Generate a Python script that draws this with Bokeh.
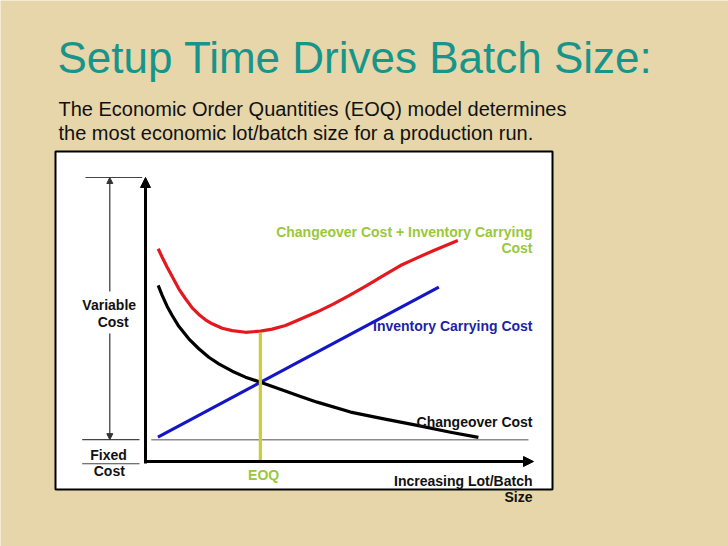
from bokeh.plotting import figure
from bokeh.models import Range1d, Arrow, NormalHead
from bokeh.core.properties import value
from bokeh.embed import file_html
from bokeh.resources import INLINE

# ---------------- data (axis units 0..100) ----------------
total_lot = [3.27, 4.30, 5.59, 6.88, 8.58, 10.31, 12.04, 13.74, 15.46, 17.19, 19.77, 22.35,
             25.77, 29.64, 32.65, 36.08, 40.0, 44.3, 48.5, 52.8, 57.1, 61.4, 65.7, 70.0, 74.3, 80.5]
total_cost = [74.9, 71.9, 68.4, 65.1, 60.8, 57.3, 54.1, 51.8, 49.9, 48.5, 46.9, 46.1,
              45.5, 45.9, 46.6, 47.9, 50.2, 52.7, 55.5, 58.7, 62.0, 65.5, 69.0, 71.7, 74.3, 77.8]

changeover_lot = [3.27, 4.30, 5.59, 6.88, 8.58, 11.16, 13.74, 16.32, 18.89, 22.35, 25.77, 29.64,
                  35.64, 39.95, 44.25, 52.84, 61.42, 70.03, 78.61, 85.8]
changeover_cost = [62.0, 58.5, 54.6, 51.4, 47.6, 43.2, 39.7, 36.7, 34.4, 31.8, 29.7, 27.9,
                   25.0, 22.9, 20.9, 17.4, 15.0, 12.7, 10.3, 8.5]

carrying_lot = [3.2, 75.6]
carrying_cost = [8.6, 61.4]

fixed_cost = 7.7
fixed_span = [1.5, 98.7]
eoq_lot = 29.6
eoq_cost = 45.4
axis_max = 100

title = "Setup Time Drives Batch Size:"
subtitle = ["The Economic Order Quantities (EOQ) model determines",
            "the most economic lot/batch size for a production run."]

# ---------------- layout helpers (page pixels -> axis units) ----------------
W, H = 728, 546
PX0, PY0 = 145, 461
SX, SY = 3.88, 2.84


def X(px):
    return (px - PX0) / SX


def Y(py):
    return (PY0 - py) / SY


def YT(py, size):
    # baseline position, corrected for how the text glyph is placed
    return Y(py - 0.34 * size)


BG = "#e6d6aa"
TEAL = "#17958a"
RED = "#e3191f"
BLUE = "#1515c8"
YEL_LINE = "#cccc33"
YEL_TXT = "#99c83a"
FONT = value("Liberation Sans")

p = figure(width=W, height=H, x_range=Range1d(X(0), X(W)), y_range=Range1d(Y(H), Y(0)),
           output_backend="svg", toolbar_location=None, min_border=0,
           x_axis_location=None, y_axis_location=None,
           background_fill_color=BG, border_fill_color=BG, outline_line_color=None)
p.grid.visible = False

# white panel
p.quad(left=[X(55)], right=[X(552)], top=[Y(151)], bottom=[Y(489)],
       fill_color="white", line_color="black", line_width=2)

# fixed cost level
p.line(fixed_span, [fixed_cost, fixed_cost], line_color="#8a8a8a", line_width=1.5)

# bracket on the left
p.line([X(85), X(141.7)], [axis_max, axis_max], line_color="#444444", line_width=1.2)
p.line([X(81.7), X(139)], [fixed_cost, fixed_cost], line_color="#444444", line_width=1.2)
p.line([X(81.7), X(139)], [-0.8, -0.8], line_color="#444444", line_width=1.2)
for y0, y1 in [(Y(291), axis_max), (Y(333), fixed_cost)]:
    p.add_layout(Arrow(x_start=X(109.3), y_start=y0, x_end=X(109.3), y_end=y1,
                       line_color="#333333", line_width=1.2,
                       end=NormalHead(size=6, fill_color="#333333", line_color="#333333")))

# curves
p.line(carrying_lot, carrying_cost, line_color=BLUE, line_width=3.2)
p.line(changeover_lot, changeover_cost, line_color="black", line_width=3.2, line_join="round")
p.line(total_lot, total_cost, line_color=RED, line_width=3.2, line_join="round")
p.line([eoq_lot, eoq_lot], [0, eoq_cost], line_color=YEL_LINE, line_width=3.2)

# axes with arrows
p.add_layout(Arrow(x_start=0, y_start=Y(463), x_end=0, y_end=axis_max, line_color="black",
                   line_width=3, end=NormalHead(size=10, fill_color="black", line_color="black")))
p.add_layout(Arrow(x_start=X(143.5), y_start=0, x_end=axis_max, y_end=0, line_color="black",
                   line_width=3, end=NormalHead(size=10, fill_color="black", line_color="black")))

# title and subtitle
p.text(x=[X(57)], y=[YT(72, 44)], text=[title], text_font=FONT, text_font_size="44px",
       text_color=TEAL, text_baseline="alphabetic", text_align="left")
p.text(x=[X(58), X(58)], y=[YT(115, 20), YT(139, 20)], text=subtitle, text_font=FONT,
       text_font_size="20px", text_color="#111111", text_baseline="alphabetic", text_align="left")


# chart labels
def lab(xs, pys, texts, color, align):
    p.text(x=xs, y=[YT(v, 14) for v in pys], text=texts, text_font=FONT, text_font_size="14px",
           text_font_style="bold", text_color=color, text_baseline="alphabetic",
           text_align=align)


lab([X(532), X(532)], [236.7, 252.7], ["Changeover Cost + Inventory Carrying", "Cost"], YEL_TXT, "right")
lab([X(532)], [330], ["Inventory Carrying Cost"], "#1f1fa8", "right")
lab([X(532)], [426], ["Changeover Cost"], "#111111", "right")
lab([X(532), X(532)], [485, 501.7], ["Increasing Lot/Batch", "Size"], "#111111", "right")
lab([eoq_lot + X(263.3) - X(260)], [479.3], ["EOQ"], YEL_TXT, "center")
lab([X(108.7), X(112.7)], [309, 326], ["Variable", "Cost"], "#111111", "center")
lab([X(108), X(108.8)], [459, 475], ["Fixed", "Cost"], "#111111", "center")

open("out.html", "w").write(file_html(p, INLINE))
